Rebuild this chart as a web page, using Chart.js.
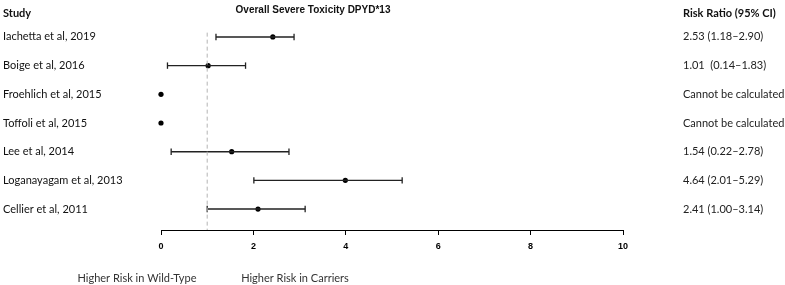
<!DOCTYPE html>
<html>
<head>
<meta charset="utf-8">
<script src="https://cdn.jsdelivr.net/npm/chart.js@4/dist/chart.umd.min.js"></script>
<style>
html,body{margin:0;padding:0;background:#fff;}
#wrap{width:785px;height:285px;position:relative;}
</style>
</head>
<body>
<div id="wrap"><canvas id="c"></canvas></div>
<script>
const chartTitle = "Overall Severe Toxicity DPYD*13";
const studies = ["Iachetta et al, 2019","Boige et al, 2016","Froehlich et al, 2015","Toffoli et al, 2015","Lee et al, 2014","Loganayagam et al, 2013","Cellier et al, 2011"];
const riskRatio = [2.42, 1.02, 0, 0, 1.53, 3.99, 2.10];
const ciLow = [1.19, 0.14, null, null, 0.22, 2.01, 1.00];
const ciHigh = [2.88, 1.83, null, null, 2.77, 5.22, 3.12];
const rrLabels = ["2.53 (1.18\u20132.90)","1.01  (0.14\u20131.83)","Cannot be calculated","Cannot be calculated","1.54 (0.22\u20132.78)","4.64 (2.01\u20135.29)","2.41 (1.00\u20133.14)"];
const xTicks = [0, 2, 4, 6, 8, 10];
const refLine = 1;
const leftHeader = "Study";
const rightHeader = "Risk Ratio (95% CI)";
const bottomLeft = "Higher Risk in Wild-Type";
const bottomRight = "Higher Risk in Carriers";

const LABEL_FONT = "Lato";
const rowY = studies.map((s,i)=>i+1);

const ciLine = [];
const caps = [];
studies.forEach((s,i)=>{
  if (ciLow[i]!==null && ciHigh[i]!==null) {
    ciLine.push({x:ciLow[i], y:rowY[i]}, {x:ciHigh[i], y:rowY[i]}, {x:null, y:null});
    caps.push({x:ciLow[i], y:rowY[i]}, {x:ciHigh[i], y:rowY[i]});
  }
});
const pts = studies.map((s,i)=>({x:riskRatio[i], y:rowY[i]}));

const textPlugin = {
  id:'texts',
  afterDraw(chart){
    const ctx = chart.ctx;
    const ys = chart.scales.y;
    ctx.save();
    ctx.textBaseline = 'middle';
    ctx.fillStyle = '#111';
    ctx.font = "bold 11px " + LABEL_FONT;
    ctx.textAlign = 'left';
    ctx.fillText(leftHeader, 3, 13);
    ctx.fillText(rightHeader, 683, 13);
    ctx.font = "11px " + LABEL_FONT;
    ctx.fillStyle = '#222';
    rrLabels.forEach((t,i)=>{
      ctx.fillText(t, 683, ys.getPixelForValue(rowY[i]));
    });
    ctx.fillStyle = '#333';
    ctx.textAlign = 'center';
    ctx.fillText(bottomLeft, 137, 278);
    ctx.fillText(bottomRight, 295, 278);
    ctx.restore();
  }
};

new Chart(document.getElementById('c'), {
  type:'scatter',
  data:{
    datasets:[
      {type:'line', data:[{x:refLine,y:0.85},{x:refLine,y:7.73}], borderColor:'#b4b4b4', borderWidth:1, borderDash:[4,3], pointRadius:0, clip:false},
      {type:'line', data:ciLine, borderColor:'#222', borderWidth:1.4, pointRadius:0, spanGaps:false, clip:false},
      {type:'scatter', data:caps, pointStyle:'line', rotation:90, pointRadius:3.2, borderColor:'#222', borderWidth:1.3, clip:false},
      {type:'scatter', data:pts, pointStyle:'circle', pointRadius:2.6, backgroundColor:'#000', borderColor:'#000', borderWidth:0, clip:false}
    ]
  },
  options:{
    responsive:true, maintainAspectRatio:false, animation:false,
    layout:{padding:{left:3, right:162, top:0, bottom:0}},
    plugins:{
      legend:{display:false}, tooltip:{enabled:false},
      title:{display:true, text:chartTitle, color:'#111', font:{family:'Liberation Sans', size:10, weight:'bold', lineHeight:1.2}, padding:{top:4, bottom:0}}
    },
    scales:{
      x:{type:'linear', min:0, max:10,
        afterBuildTicks(s){ s.ticks = xTicks.map(v=>({value:v})); },
        afterFit(s){ s.height = 55; },
        grid:{drawOnChartArea:false, drawTicks:true, tickLength:5, color:'#000', lineWidth:1},
        border:{display:true, color:'#000', width:1},
        ticks:{color:'#000', padding:6, font:{family:'Liberation Sans', size:9, weight:'bold'}, maxRotation:0}
      },
      y:{type:'linear', position:'left', min:0.27, max:7.73, reverse:true,
        afterBuildTicks(s){ s.ticks = rowY.map(v=>({value:v})); },
        afterFit(s){ s.width = 158; s.paddingTop = 0; s.paddingBottom = 0; },
        grid:{display:false, drawTicks:false}, border:{display:false},
        ticks:{autoSkip:false, crossAlign:'far', padding:0, color:'#111', font:{family:LABEL_FONT, size:11},
          callback:(v)=>studies[v-1] }
      }
    }
  },
  plugins:[textPlugin]
});
</script>
</body>
</html>
